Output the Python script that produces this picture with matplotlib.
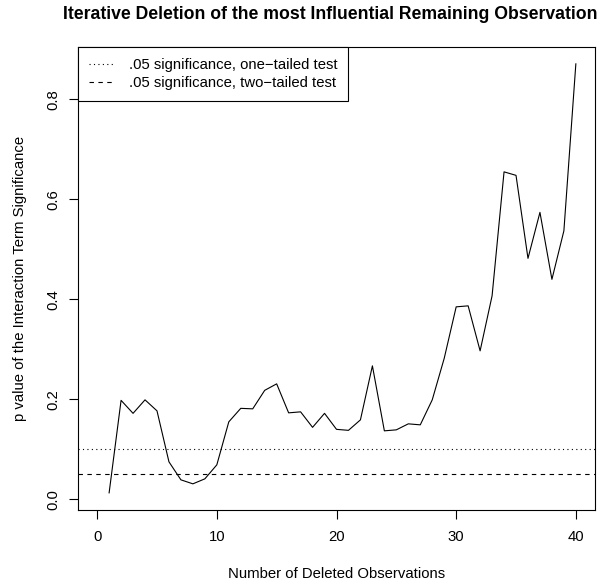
import matplotlib
matplotlib.use("Agg")
import matplotlib.pyplot as plt

deleted = list(range(1, 41))
pvalues = [0.013, 0.198, 0.172, 0.199, 0.177, 0.075, 0.039, 0.031, 0.041, 0.069,
           0.155, 0.182, 0.181, 0.218, 0.231, 0.173, 0.175, 0.144, 0.172, 0.140,
           0.138, 0.159, 0.267, 0.137, 0.139, 0.151, 0.149, 0.199, 0.282, 0.385,
           0.387, 0.297, 0.407, 0.655, 0.648, 0.482, 0.574, 0.440, 0.537, 0.871]
one_tailed = 0.10
two_tailed = 0.05
xticks = [0, 10, 20, 30, 40]
yticks = [0.0, 0.2, 0.4, 0.6, 0.8]
legend_labels = [".05 significance, one\u2212tailed test", ".05 significance, two\u2212tailed test"]

plt.rcParams['font.family'] = ['Liberation Sans', 'DejaVu Sans']
fs = 10.7

fig = plt.figure(figsize=(6.01, 5.86), dpi=100)
ax = fig.add_axes([78/601, 1-510/586, (595-78)/601, (510-46.7)/586])

ax.plot(deleted, pvalues, color='black', lw=0.8)
l1 = ax.axhline(one_tailed, color='black', lw=0.8, linestyle=(0, (1, 3)))
l2 = ax.axhline(two_tailed, color='black', lw=0.8, linestyle=(0, (4, 4)))

ax.set_xlim(-1.6, 41.6)
ymin, ymax = min(pvalues), max(pvalues)
ext = 0.04 * (ymax - ymin)
ax.set_ylim(ymin - ext, ymax + ext)
ax.set_xticks(xticks)
ax.set_xticklabels([str(t) for t in xticks])
ax.set_yticks(yticks)
ax.set_yticklabels(["%.1f" % t for t in yticks], rotation=90, va='center')
ax.tick_params(axis='both', direction='out', length=6.5, width=0.8, labelsize=fs, color='black')
ax.tick_params(axis='x', pad=8.2)
ax.tick_params(axis='y', pad=6)
for s in ax.spines.values():
    s.set_linewidth(0.8)
    s.set_color('black')

ax.set_xlabel("Number of Deleted Observations", fontsize=fs, labelpad=16.5)
ax.set_ylabel("p value of the Interaction Term Significance", fontsize=fs, labelpad=14)

fig.text(63/601, 1-14.5/586, "Iterative Deletion of the most Influential Remaining Observation",
         fontsize=12.7, fontweight='bold', ha='left', va='center')

leg = ax.legend([l1, l2], legend_labels, loc='upper left', fontsize=fs,
                frameon=True, fancybox=False, borderaxespad=0, handlelength=1.6,
                handletextpad=1.05, borderpad=0.75, labelspacing=0.3)
leg.get_frame().set_edgecolor('black')
leg.get_frame().set_linewidth(0.8)
leg.get_frame().set_alpha(1)

fig.savefig("out.png", dpi=100)
